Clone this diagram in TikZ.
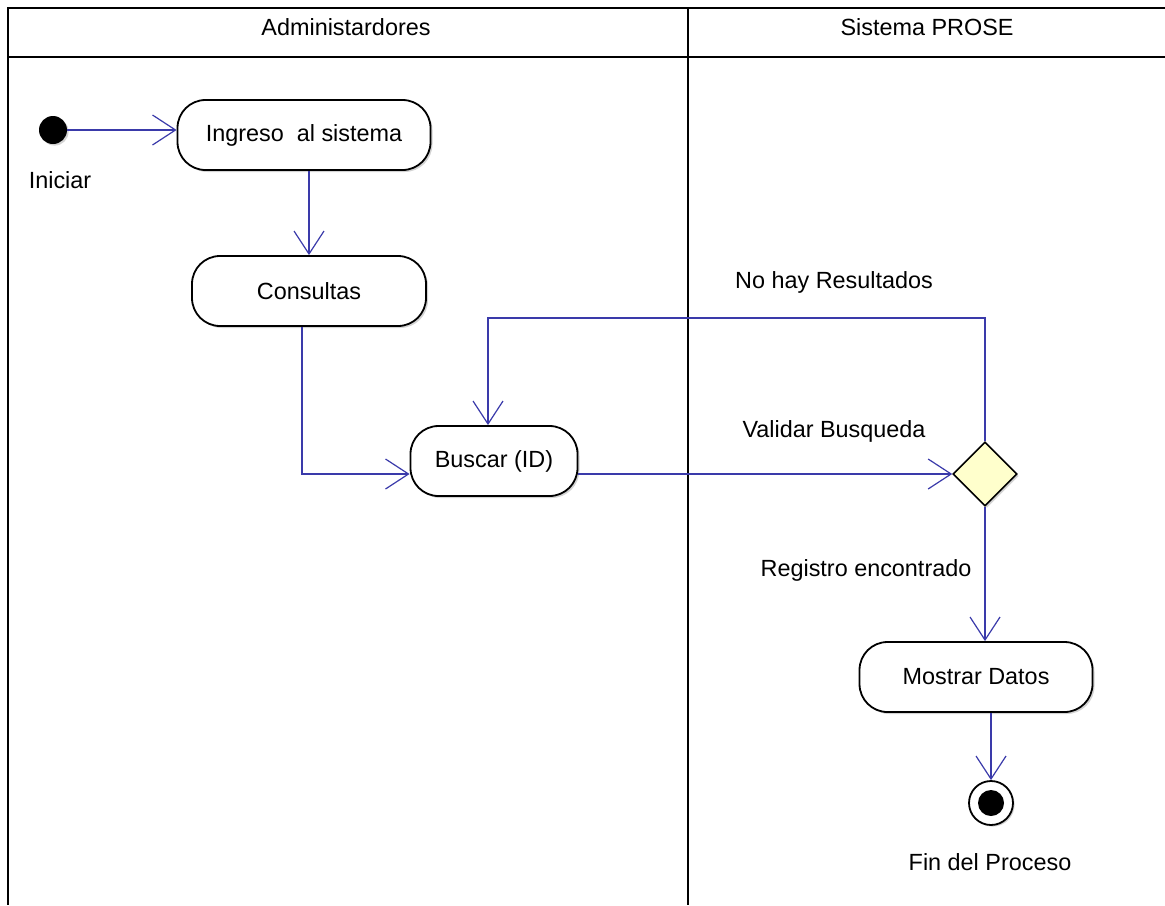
\documentclass[tikz,border=0pt]{standalone}
\usepackage{fontspec}
\setmainfont{Liberation Sans}
\usetikzlibrary{arrows.meta,shapes.geometric,shadows}
\definecolor{flowB}{RGB}{58,58,170}
\definecolor{decY}{RGB}{255,255,204}

\begin{document}
\begin{tikzpicture}[x=0.5pt,y=-0.5pt,font=\fontsize{11.7}{14}\selectfont,
  flow/.style={flowB,line width=0.8pt,-{Straight Barb[length=11.5pt,width=15pt,line width=0.6pt]}},
  lane/.style={black,line width=1pt},
  action/.style={draw,line width=0.9pt,fill=white,rounded corners=14pt,minimum height=35pt,
    drop shadow={shadow xshift=1pt,shadow yshift=-1pt,opacity=0.35}},
  decision/.style={diamond,draw,line width=0.8pt,fill=decY,minimum size=32pt,inner sep=0pt,aspect=1,
    drop shadow={shadow xshift=1pt,shadow yshift=-1pt,opacity=0.35}}]
\useasboundingbox (0,0) rectangle (1165,905);
% swimlanes
\draw[lane] (1165,8) -- (8,8) -- (8,905);
\draw[lane] (8,57) -- (1165,57);
\draw[lane] (688,8) -- (688,905);
\node (laneA) at (346,27) {Administardores};
\node (laneB) at (927,27) {Sistema PROSE};
% nodes
\node[circle,fill=black,minimum size=14pt,inner sep=0pt,
  drop shadow={shadow xshift=0.8pt,shadow yshift=-0.8pt,opacity=0.35}] (ini) at (53,130) {};
\node (iniL) at (60,180) {Iniciar};
\node[action,minimum width=126.5pt] (ingreso) at (304,135) {Ingreso\ \ al sistema};
\node[action,minimum width=117pt] (consultas) at (309,291) {Consultas};
\node[action,minimum width=83.5pt] (buscar) at (494,461) {Buscar (ID)};
\node[decision] (dec) at (985,474) {};
\node[action,minimum width=116.5pt] (mostrar) at (976,677) {Mostrar Datos};
\node[circle,draw,line width=0.9pt,fill=white,minimum size=22pt,inner sep=0pt,
  drop shadow={shadow xshift=0.8pt,shadow yshift=-0.8pt,opacity=0.35}] (fin) at (991,803) {};
\fill (fin) circle (6.5pt);
\node (finL) at (990,862) {Fin del Proceso};
\coordinate (turn) at (488,318);
% flows
\draw[flow] (ini.east) -- (ini -| ingreso.west);
\draw[flow] (consultas.north |- ingreso.south) -- (consultas.north);
\draw[flow] ([xshift=-3.5pt]consultas.south) |- (dec.west -| buscar.west);
\draw[flow] (dec.west -| buscar.east) -- (dec.west);
\node (valL) at (834,431) {Validar Busqueda};
\draw[flow] (dec.north) |- (turn) -- (turn |- buscar.north);
\node (noRes) at (834,282) {No hay Resultados};
\draw[flow] (dec.south) -- (dec.south |- mostrar.north);
\node (regL) at (866,570) {Registro encontrado};
\draw[flow] (fin.north |- mostrar.south) -- (fin.north);
\end{tikzpicture}
\end{document}
